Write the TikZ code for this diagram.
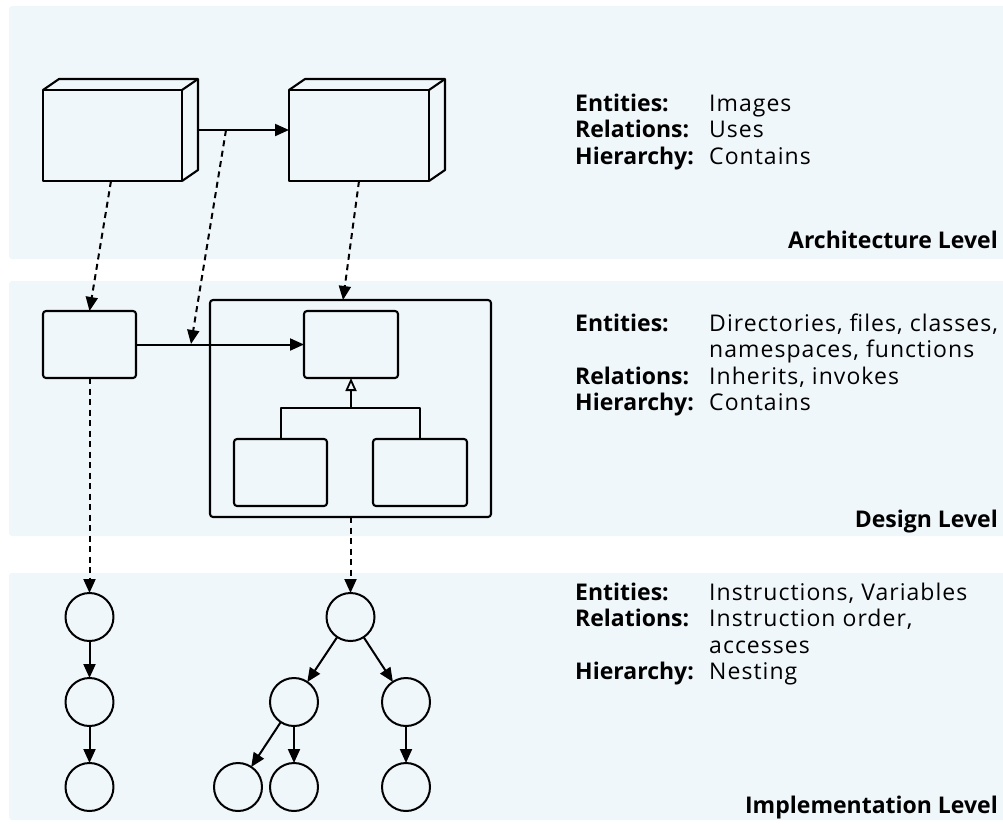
\documentclass[tikz,border=0pt]{standalone}
\usepackage{fontspec}
\setmainfont{Open Sans}[UprightFeatures={LetterSpace=4.5},BoldFeatures={LetterSpace=0}]
\usetikzlibrary{arrows.meta,calc}
\definecolor{bandfill}{RGB}{240,247,251}

\begin{document}
\begin{tikzpicture}[x=1pt,y=-1pt,line join=round,
  band/.style={fill=bandfill,rounded corners=3pt},
  plainbox/.style={draw,line width=2.1pt,inner sep=0pt,outer sep=0pt},
  rbox/.style={plainbox,rounded corners=3pt},
  circ/.style={draw,circle,line width=2pt,minimum size=48pt,inner sep=0pt,outer sep=0pt},
  arr/.style={line width=2pt,-{Triangle[length=14pt,width=12pt]}},
  darr/.style={arr,dash pattern=on 6pt off 4.5pt},
  inh/.style={line width=2pt,-{Triangle[open,length=13pt,width=11pt,line width=1.8pt]}},
  conn/.style={line width=2pt},
  info/.style={anchor=base west,inner sep=0pt,font=\fontsize{23}{26.5}\selectfont},
  lvl/.style={anchor=base east,inner sep=0pt,font=\fontsize{23}{26.5}\selectfont\bfseries}]
\useasboundingbox (0,0) rectangle (1003,823);

% level bands
\fill[band] (9,6) rectangle (1010,259);
\fill[band] (9,281) rectangle (1010,536);
\fill[band] (9,573) rectangle (1010,820);

% ---------- architecture level: two 3D components ----------
\node[plainbox,minimum width=139pt,minimum height=91pt] (a1) at (112.5,135.5) {};
\node[plainbox,minimum width=140pt,minimum height=91pt] (a2) at (359,135.5) {};
\foreach \b in {a1,a2}{
  \draw[line width=2.1pt] (\b.north west) -- ++(16,-11) -| ($(\b.south east)+(16,-11)$) -- (\b.south east);
  \draw[line width=2.1pt] (\b.north east) -- ++(16,-11);
}
\coordinate (a1side) at ($(a1.east)+(16,-5.5)$);
\draw[arr] (a1side) -- (a1side -| a2.west);

% ---------- design level ----------
\node[rbox,minimum width=93pt,minimum height=67pt] (d1) at (89.5,344.5) {};
\node[rbox,minimum width=281pt,minimum height=217pt] (ctr) at (350.5,408.5) {};
\node[rbox,minimum width=94pt,minimum height=67pt] (dtop) at (351,344.5) {};
\node[rbox,minimum width=93pt,minimum height=67pt] (dl) at (280.5,472.5) {};
\node[rbox,minimum width=94pt,minimum height=67pt] (dr) at (420,472.5) {};
\draw[arr] (d1.east) -- (dtop.west);
\coordinate (bar) at (351,408);
\draw[conn] (dl.north) |- (bar) -| (dr.north);
\draw[inh] (bar) -- (dtop.south);

% ---------- implementation level ----------
\node[circ] (l1) at (89.5,617) {};
\node[circ] (l2) at (89.5,702) {};
\node[circ] (l3) at (89.5,787) {};
\node[circ] (r)   at (350.5,617) {};
\node[circ] (ra)  at (294,702) {};
\node[circ] (rb)  at (406,702) {};
\node[circ] (raa) at (238,787) {};
\node[circ] (rab) at (294,787) {};
\node[circ] (rba) at (406,787) {};
\draw[arr] (l1) -- (l2);
\draw[arr] (l2) -- (l3);
\draw[arr] (r) -- (ra);
\draw[arr] (r) -- (rb);
\draw[arr] (ra) -- (raa);
\draw[arr] (ra) -- (rab);
\draw[arr] (rb) -- (rba);

% ---------- refinement links between levels ----------
\coordinate (u) at (226,130);
\coordinate (v) at (191,344);
\draw[darr] ($(a1.south)+(-1.5,0)$) -- (d1.north);
\draw[darr] (u) -- (v);
\draw[darr] (a2.south) -- ($(ctr.north)+(-7.5,0)$);
\draw[darr] (d1.south) -- (l1.north);
\draw[darr] (ctr.south) -- (r.north);

% ---------- descriptions ----------
\node[info] (t1) at (575,111) {\begin{tabular}[t]{@{}p{134pt}@{}l@{}}
  \bfseries Entities: & Images\\
  \bfseries Relations: & Uses\\
  \bfseries Hierarchy: & Contains
\end{tabular}};
\node[lvl] (n1) at (998,248) {Architecture Level};

\node[info] (t2) at (575,331) {\begin{tabular}[t]{@{}p{134pt}@{}l@{}}
  \bfseries Entities: & Directories, files, classes,\\
   & namespaces, functions\\
  \bfseries Relations: & Inherits, invokes\\
  \bfseries Hierarchy: & Contains
\end{tabular}};
\node[lvl] (n2) at (998,527) {Design Level};

\node[info] (t3) at (575,600) {\begin{tabular}[t]{@{}p{134pt}@{}l@{}}
  \bfseries Entities: & Instructions, Variables\\
  \bfseries Relations: & Instruction order,\\
   & accesses\\
  \bfseries Hierarchy: & Nesting
\end{tabular}};
\node[lvl] (n3) at (998,813) {Implementation Level};
\end{tikzpicture}
\end{document}
